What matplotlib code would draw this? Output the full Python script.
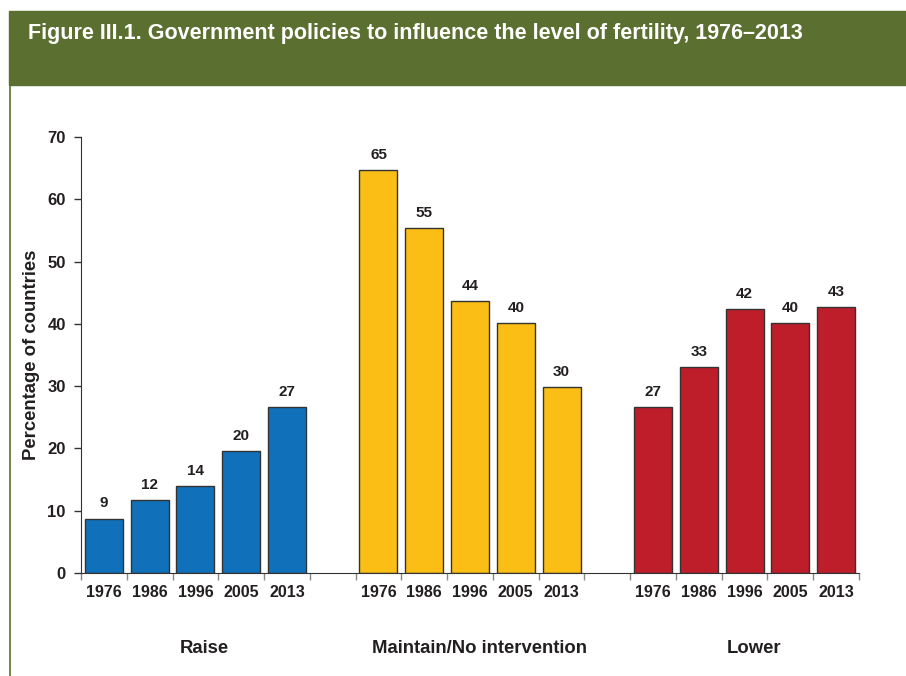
import matplotlib.pyplot as plt
from matplotlib.patches import Rectangle
from matplotlib.lines import Line2D
import numpy as np

plt.rcParams['font.family'] = ['Liberation Sans', 'DejaVu Sans']
plt.rcParams['font.weight'] = 'bold'

years = ['1976', '1986', '1996', '2005', '2013']
policies = ['Raise', 'Maintain/No intervention', 'Lower']
raise_pct = [8.75, 11.64, 14.0, 19.6, 26.6]
maintain_pct = [64.7, 55.4, 43.6, 40.2, 29.9]
lower_pct = [26.7, 33.0, 42.4, 40.2, 42.7]
colors = ['#1170BA', '#FBBE14', '#BE1E2A']

txt = '#231F20'
green = '#5B7030'

fig = plt.figure(figsize=(9.06, 6.76), dpi=100)

# header band and left frame line
fig.patches.append(Rectangle((9 / 906, 1 - 85 / 676), 1 - 9 / 906, 74 / 676,
                             transform=fig.transFigure, color=green, zorder=0))
fig.lines.append(Line2D([9.5 / 906, 9.5 / 906], [0, 1 - 85 / 676],
                        transform=fig.transFigure, color=green, lw=1.2))
fig.text(28 / 906, 1 - 34 / 676,
         'Figure III.1. Government policies to influence the level of fertility, 1976\u20132013',
         color='white', fontsize=15.5, fontweight='bold', va='center', ha='left')

ax = fig.add_axes([81 / 906, 103 / 676, 778 / 906, 436 / 676])

series = [raise_pct, maintain_pct, lower_pct]
for g, (vals, col) in enumerate(zip(series, colors)):
    x = np.arange(len(vals)) + g * 6
    ax.bar(x, vals, width=0.83, color=col, edgecolor='#333333', linewidth=1.0, zorder=2)
    for xi, v in zip(x, vals):
        ax.text(xi, v + 1.3, f'{round(v):d}', ha='center', va='bottom',
                fontsize=11, fontweight='bold', color=txt)
    for xi, yr in zip(x, years):
        ax.text(xi, -1.9, yr, ha='center', va='top', fontsize=11.5,
                fontweight='bold', color=txt)
    ax.text(g * 6 + 2.2, -12.2, policies[g], ha='center', va='center',
            fontsize=13.3, fontweight='bold', color=txt)

ax.set_xlim(-0.5, 16.5)
ax.set_ylim(0, 70)
ax.set_xticks(np.arange(-0.5, 17, 1))
ax.set_xticklabels([])
ax.tick_params(axis='x', length=5, color='#888888', width=1, direction='out')
ax.set_yticks(range(0, 71, 10))
ax.tick_params(axis='y', length=5, color='#333333', width=1, labelsize=12,
               labelcolor=txt, pad=6)
for lab in ax.get_yticklabels():
    lab.set_fontweight('bold')
ax.spines['top'].set_visible(False)
ax.spines['right'].set_visible(False)
ax.spines['left'].set_color('#333333')
ax.spines['bottom'].set_color('#333333')
ax.set_ylabel('Percentage of countries', fontsize=13.3, fontweight='bold',
              color=txt, labelpad=5)

plt.savefig('out.png', dpi=100)
